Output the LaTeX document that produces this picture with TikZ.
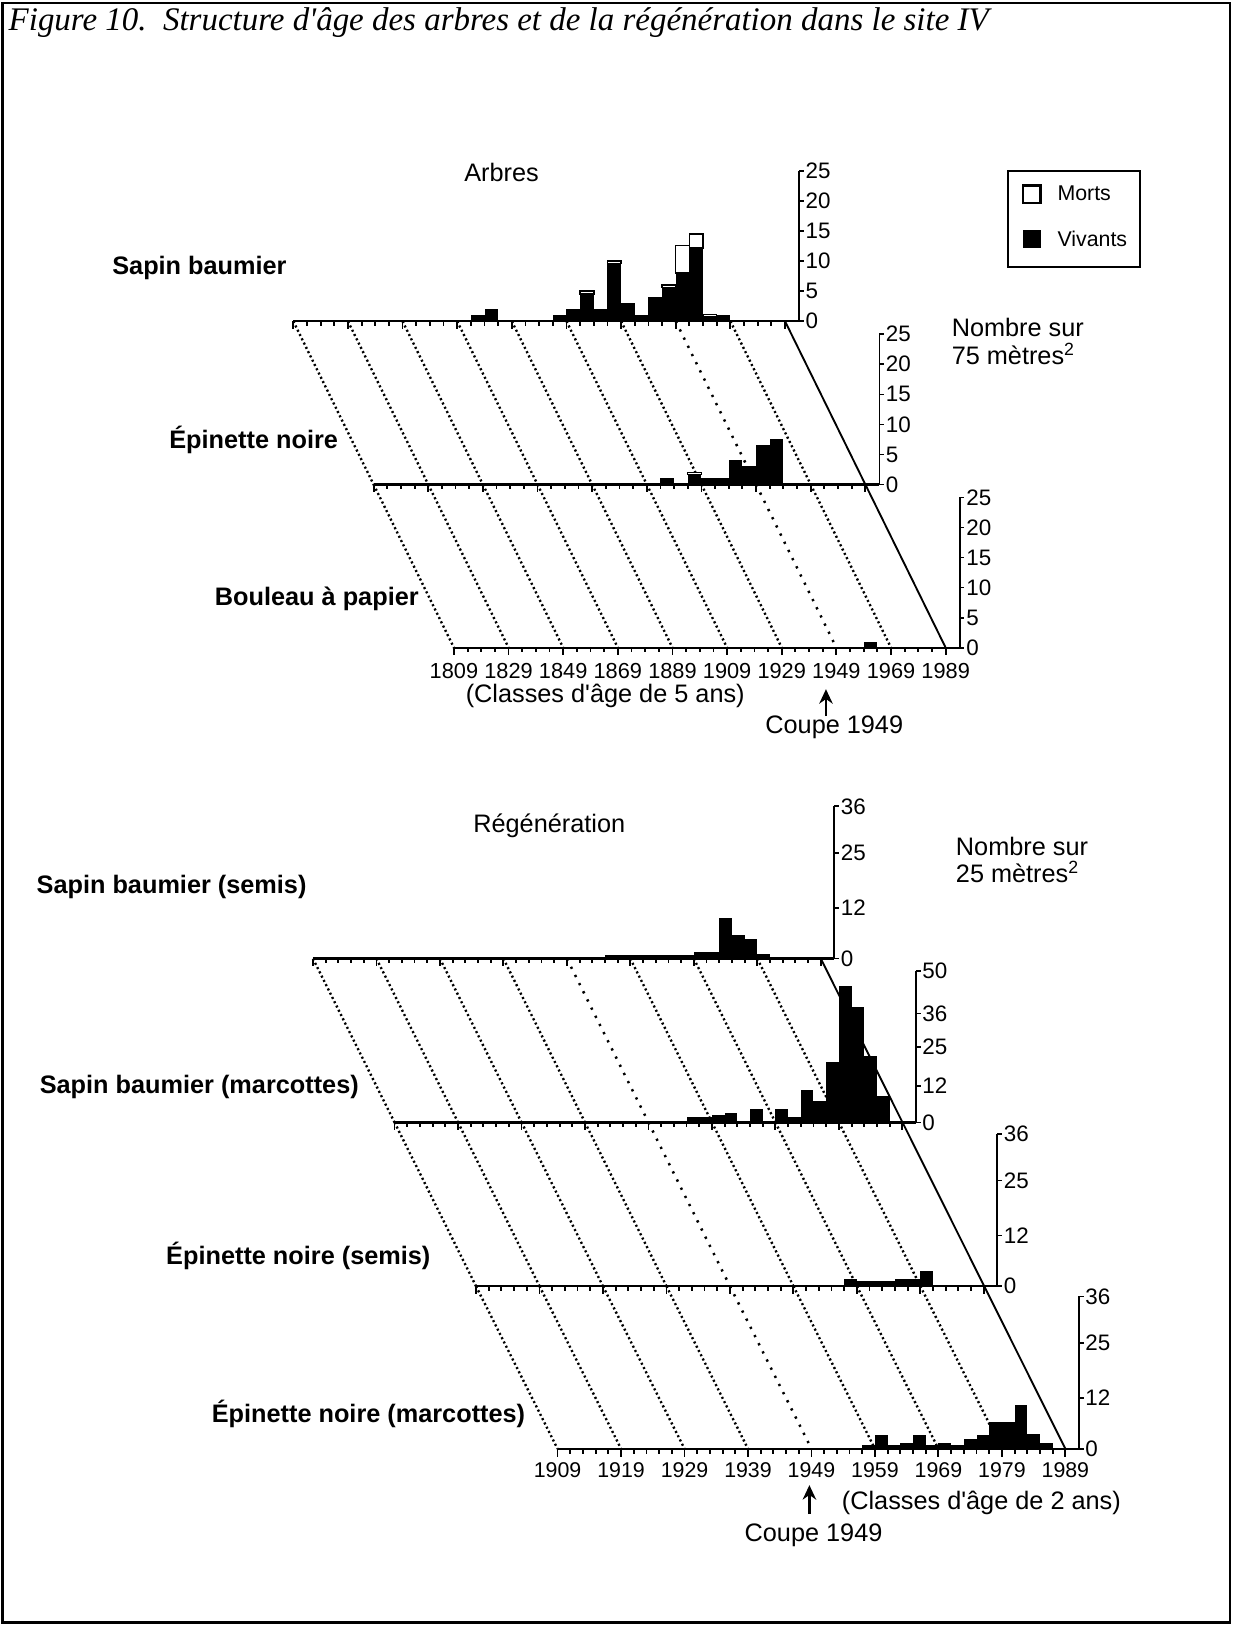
\documentclass[tikz,border=0pt]{standalone}
\usepackage{fontspec}
\setmainfont{Liberation Sans}
\newfontfamily\psans{Liberation Sans}
\newfontfamily\titlefont{Liberation Serif}
\usetikzlibrary{arrows.meta}
\tikzset{
  baseln/.style={line width=1.1pt},
  axisln/.style={line width=0.8pt},
  tickln/.style={line width=0.9pt},
  densedot/.style={line width=1.15pt, dash pattern=on 1pt off 1.3pt},
  sparsedot/.style={line width=1.2pt, dash pattern=on 1.1pt off 3.3pt},
  slantln/.style={line width=0.9pt},
  splab/.style={font=\psans\fontsize{12.2}{14}\selectfont\bfseries, inner sep=0pt, anchor=base west},
  txt/.style={font=\psans\fontsize{12.2}{14}\selectfont, inner sep=0pt},
  numlab/.style={font=\psans\fontsize{10.8}{12}\selectfont, inner sep=0pt},
  xlab/.style={font=\psans\fontsize{10.5}{12}\selectfont, inner sep=0pt, anchor=base},
  leglab/.style={font=\psans\fontsize{10.3}{12}\selectfont, inner sep=0pt, anchor=base west},
  deadbar/.style={fill=white, draw=black, line width=0.7pt},
  uparrow/.style={line width=1.1pt, -{Stealth[length=7pt,width=6.5pt]}},
}
% bars: #1 x0, #2 y0, #3 class width, #4 px per unit, #5 list i/live/dead
\newcommand{\histbars}[5]{%
  \foreach \i/\l/\d in {#5}{%
    \pgfmathsetmacro{\xa}{#1+\i*#3}%
    \pgfmathsetmacro{\xb}{#1+(\i+1)*#3}%
    \pgfmathsetmacro{\ya}{#2-\l*#4}%
    \fill[black] (\xa,#2) rectangle (\xb,\ya);
    \ifdim \d pt>0pt
      \pgfmathsetmacro{\yb}{\ya-\d*#4}%
      \draw[deadbar] (\xa,\ya) rectangle (\xb,\yb);
    \fi
  }}
% axis of a panel: #1 x0, #2 y0, #3 class width, #4 nb classes, #5 major every, #6 axis offset, #7 height
\newcommand{\panelaxis}[7]{%
  \foreach \k in {0,...,#4}{%
    \pgfmathsetmacro{\xx}{#1+\k*#3}%
    \pgfmathtruncatemacro{\mm}{mod(\k,#5)}%
    \ifnum\mm=0 \draw[tickln] (\xx,#2) -- ++(0,7.5); \else \draw[tickln] (\xx,#2) -- ++(0,4.5); \fi
  }
  \draw[baseln] (#1,#2) -- ++(#6,0);
  \draw[axisln] (#1+#6,#2) -- ++(0,-#7);
}
% y labels: #1 axis x, #2 y0, #3 px per unit, #4 list, #5 prefix
\newcommand{\ylabels}[5]{%
  \foreach \v in {#4}{%
    \draw[axisln] (#1,#2-\v*#3) -- ++(4.5,0);
    \node[numlab, anchor=west] (#5-\v) at (#1+6,#2-\v*#3) {\v};
  }}
\begin{document}
\begin{tikzpicture}[x=0.5pt,y=-0.5pt]
\useasboundingbox (0,0) rectangle (1189,1568);
\fill[white] (0,0) rectangle (1189,1568);
\draw[line width=1.1pt] (2.5,3) rectangle (1186.5,1565.5);
\node[anchor=base west, inner sep=0pt, font=\titlefont\itshape\fontsize{15.9}{18}\selectfont] (title) at (8,29) {Figure 10.\ \ Structure d'âge des arbres et de la régénération dans le site IV};

% ================= TOP: Arbres =================
\foreach \k in {0,...,8}{%
  \pgfmathsetmacro{\dx}{\k*52.72}%
  \ifnum\k=7
    \draw[sparsedot] (283+\dx,310) -- (360.5+\dx,467.5);
    \draw[sparsedot] (360.5+\dx,467.5) -- (438+\dx,625);
  \else
    \draw[densedot] (283+\dx,310) -- (360.5+\dx,467.5);
    \draw[densedot] (360.5+\dx,467.5) -- (438+\dx,625);
  \fi
}
\coordinate (t1end) at (283+474.5,310);
\coordinate (t3end) at (438+474.5,625);
\draw[slantln] (t1end) -- (t3end);

\histbars{283}{310}{13.18}{5.8}{13/1/0, 14/2/0, 19/1/0, 20/2/0, 21/4.5/0.5, 22/2/0, 23/9.6/0.4, 24/3/0, 25/1/0, 26/4/0, 27/5.6/0.4, 28/8/4.6, 29/12.2/2.3, 30/0.8/0.3, 31/1/0}
\histbars{360.5}{467.5}{13.18}{5.8}{21/1/0, 23/1.7/0.3, 24/1/0, 25/1/0, 26/4/0, 27/3/0, 28/6.5/0, 29/7.5/0}
\histbars{438}{625}{13.18}{5.8}{30/1/0}

\panelaxis{283}{310}{13.18}{36}{4}{488}{145}
\panelaxis{360.5}{467.5}{13.18}{36}{4}{488}{145}
\panelaxis{438}{625}{13.18}{36}{4}{488}{145}
\ylabels{771}{310}{5.8}{0,5,10,15,20,25}{ya}
\ylabels{848.5}{467.5}{5.8}{0,5,10,15,20,25}{yb}
\ylabels{926}{625}{5.8}{0,5,10,15,20,25}{yc}

\foreach \yr [count=\c from 0] in {1809,1829,1849,1869,1889,1909,1929,1949,1969,1989}{%
  \node[xlab] (xt-\yr) at (438+\c*52.72,655) {\yr};
}
\node[txt, anchor=base] (arbres) at (484,175) {Arbres};
\node[splab] (sapin) at (108,265) {Sapin baumier};
\node[splab] (epin) at (163,433) {Épinette noire};
\node[splab] (bouleau) at (207,584) {Bouleau à papier};
\node[txt, anchor=base west] (nb1) at (918,325) {Nombre sur};
\node[txt, anchor=base west] (nb1b) at (918,352) {75 mètres\textsuperscript{2}};
\node[txt, anchor=base] (cl5) at (584,678) {(Classes d'âge de 5 ans)};
\node[txt, anchor=base] (coupe1) at (805,708) {Coupe 1949};
\coordinate (ar1a) at (797,691);
\coordinate (ar1b) at (797,665);
\draw[uparrow] (ar1a) -- (ar1b);

% legend
\draw[line width=1pt] (973,165) rectangle (1100,258);
\draw[line width=1pt, fill=white] (987,179) rectangle (1004,196);
\fill[black] (987,222) rectangle (1004,239);
\node[leglab] (morts) at (1020,193) {Morts};
\node[leglab] (viv) at (1020,238) {Vivants};

% ================= BOTTOM: Régénération =================
\foreach \k in {0,...,7}{%
  \pgfmathsetmacro{\dx}{\k*61.25}%
  \ifnum\k=4
    \draw[sparsedot] (302+\dx,925) -- (380.7+\dx,1083);
    \draw[sparsedot] (380.7+\dx,1083) -- (459.3+\dx,1241);
    \draw[sparsedot] (459.3+\dx,1241) -- (538+\dx,1398);
  \else
    \draw[densedot] (302+\dx,925) -- (380.7+\dx,1083);
    \draw[densedot] (380.7+\dx,1083) -- (459.3+\dx,1241);
    \draw[densedot] (459.3+\dx,1241) -- (538+\dx,1398);
  \fi
}
\coordinate (b1end) at (302+490,925);
\coordinate (b4end) at (538+490,1398);
\draw[slantln] (b1end) -- (b4end);

\histbars{302}{925}{12.25}{4.083}{3/0.25/0, 4/0.25/0, 5/0.25/0, 6/0.25/0, 7/0.25/0, 8/0.25/0, 9/0.25/0, 10/0.25/0, 11/0.25/0, 14/0.25/0, 15/0.25/0, 16/0.25/0, 17/0.25/0, 23/0.9/0, 24/0.9/0, 25/0.9/0, 26/0.9/0, 27/0.9/0, 28/0.9/0, 29/0.9/0, 30/1.5/0, 31/1.5/0, 32/9.5/0, 33/5.5/0, 34/4.6/0, 35/1.1/0}
\histbars{380.7}{1083}{12.25}{2.92}{1/0.2/0, 2/0.2/0, 3/0.2/0, 22/0.3/0, 23/1.7/0, 24/1.7/0, 25/2.4/0, 26/3.1/0, 27/0.5/0, 28/4.5/0, 29/0.5/0, 30/4.5/0, 31/1.8/0, 32/10.8/0, 33/7/0, 34/20/0, 35/45/0, 36/38/0, 37/22/0, 38/8.8/0, 39/0.3/0}
\histbars{459.3}{1241}{12.25}{4.083}{29/1.75/0, 30/1.3/0, 31/1.3/0, 32/1.3/0, 33/1.75/0, 34/1.75/0, 35/3.5/0}
\histbars{538}{1398}{12.25}{4.083}{21/0.2/0, 22/0.2/0, 23/0.3/0, 24/1/0, 25/3.25/0, 26/0.8/0, 27/1.3/0, 28/3.25/0, 29/1/0, 30/1.3/0, 31/1/0, 32/2.4/0, 33/3.25/0, 34/6.3/0, 35/6.3/0, 36/10.3/0, 37/3.4/0, 38/1.4/0, 39/0.2/0}

\panelaxis{302}{925}{12.25}{40}{5}{503}{147}
\panelaxis{380.7}{1083}{12.25}{40}{5}{503}{146}
\panelaxis{459.3}{1241}{12.25}{40}{5}{503}{147}
\panelaxis{538}{1398}{12.25}{40}{5}{503}{147}
\ylabels{805}{925}{4.083}{0,12,25,36}{yA}
\ylabels{883.7}{1083}{2.92}{0,12,25,36,50}{yB}
\ylabels{962.3}{1241}{4.083}{0,12,25,36}{yC}
\ylabels{1041}{1398}{4.083}{0,12,25,36}{yD}

\foreach \yr [count=\c from 0] in {1909,1919,1929,1939,1949,1959,1969,1979,1989}{%
  \node[xlab, font=\psans\fontsize{10.3}{12}\selectfont] (xb-\yr) at (538+\c*61.25,1426) {\yr};
}
\node[txt, anchor=base] (regen) at (530,803) {Régénération};
\node[txt, anchor=base west] (nb2) at (922,825) {Nombre sur};
\node[txt, anchor=base west] (nb2b) at (922,852) {25 mètres\textsuperscript{2}};
\node[splab] (sbs) at (35,862) {Sapin baumier (semis)};
\node[splab] (sbm) at (38,1055) {Sapin baumier (marcottes)};
\node[splab] (ens) at (160,1220) {Épinette noire (semis)};
\node[splab] (enm) at (204,1373) {Épinette noire (marcottes)};
\node[txt, anchor=base west] (cl2) at (812,1457) {(Classes d'âge de 2 ans)};
\node[txt, anchor=base] (coupe2) at (785,1487) {Coupe 1949};
\coordinate (ar2a) at (781,1461);
\coordinate (ar2b) at (781,1433);
\draw[uparrow] (ar2a) -- (ar2b);
\end{tikzpicture}
\end{document}
